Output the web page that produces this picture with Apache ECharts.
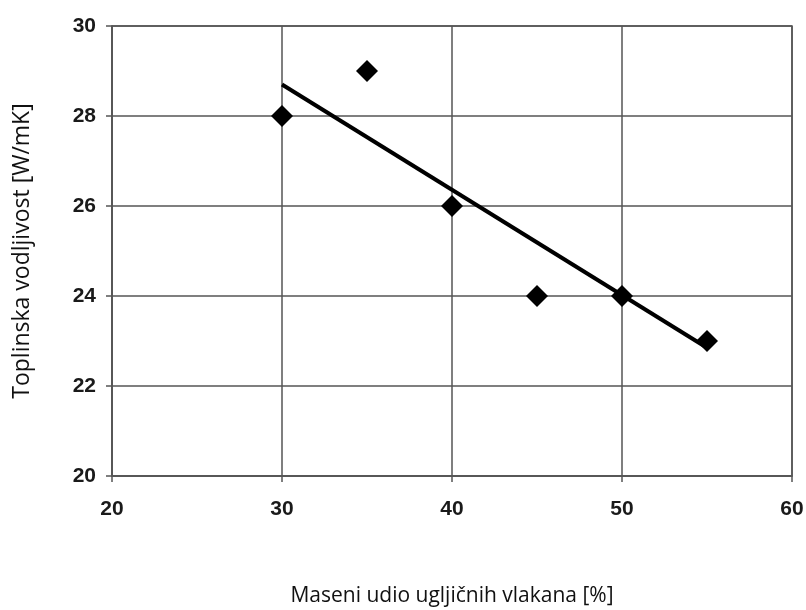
<!DOCTYPE html>
<html>
<head>
<meta charset="utf-8">
<script src="https://cdn.jsdelivr.net/npm/echarts@6/dist/echarts.min.js"></script>
<style>html,body{margin:0;padding:0;background:#fff}#c{width:806px;height:610px}</style>
</head>
<body>
<div id="c"></div>
<script>
var massFraction = [30, 35, 40, 45, 50, 55];
var conductivity = [28, 29, 26, 24, 24, 23];
var trendX = [30, 55];
var trendY = [28.7, 22.85];
var xTicks = [20, 30, 40, 50, 60];
var yTicks = [20, 22, 24, 26, 28, 30];

var chart = echarts.init(document.getElementById('c'), null, {renderer: 'canvas'});
var pts = massFraction.map(function (x, i) { return [x, conductivity[i]]; });
var trend = trendX.map(function (x, i) { return [x, trendY[i]]; });
var gridLine = {show: true, lineStyle: {color: '#555', width: 1.5}};
chart.setOption({
  animation: false,
  backgroundColor: '#fff',
  grid: {left: 112, right: 14, top: 26, bottom: 134, show: true, borderColor: '#555', borderWidth: 1.5,
         containLabel: false, outerBoundsMode: 'none'},
  xAxis: {
    type: 'value', min: xTicks[0], max: xTicks[xTicks.length - 1], interval: 10,
    name: 'Maseni udio ugljičnih vlakana [%]', nameLocation: 'middle', nameGap: 110,
    nameTextStyle: {fontFamily: 'Open Sans', fontSize: 21, color: '#111'},
    axisLine: {show: true, lineStyle: {color: '#555', width: 1.5}},
    axisTick: {show: true, length: 6, lineStyle: {color: '#555', width: 1.5}},
    axisLabel: {margin: 23, fontFamily: 'Liberation Sans', fontWeight: 'bold', fontSize: 21, color: '#1a1a1a'},
    splitLine: gridLine
  },
  yAxis: {
    type: 'value', min: yTicks[0], max: yTicks[yTicks.length - 1], interval: 2,
    name: 'Toplinska vodljivost [W/mK]', nameLocation: 'middle', nameGap: 78, nameRotate: 90,
    nameTextStyle: {fontFamily: 'Open Sans', fontSize: 23, color: '#111'},
    axisLine: {show: true, lineStyle: {color: '#555', width: 1.5}},
    axisTick: {show: true, length: 6, lineStyle: {color: '#555', width: 1.5}},
    axisLabel: {margin: 16, fontFamily: 'Liberation Sans', fontWeight: 'bold', fontSize: 21, color: '#1a1a1a'},
    splitLine: gridLine
  },
  series: [
    {
      type: 'line', data: trend, symbol: 'none',
      lineStyle: {color: '#000', width: 4}, z: 3
    },
    {
      type: 'scatter', data: pts, symbol: 'diamond', symbolSize: [22, 22],
      itemStyle: {color: '#000', opacity: 1}, z: 4
    }
  ]
});
</script>
</body>
</html>
